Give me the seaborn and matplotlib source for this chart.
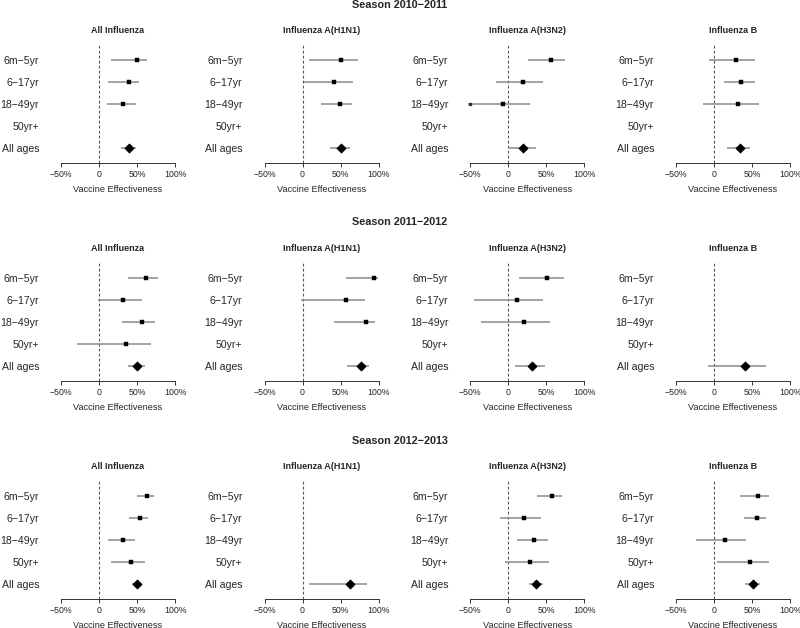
import numpy as np
import pandas as pd
import matplotlib
matplotlib.use('Agg')
import matplotlib.pyplot as plt
import seaborn as sns

sns.set_theme(style='white')
plt.rcParams['font.family'] = ['Liberation Sans', 'DejaVu Sans']

nan = np.nan
seasons = ['Season 2010\u22122011', 'Season 2011\u22122012', 'Season 2012\u22122013']
panels = ['All Influenza', 'Influenza A(H1N1)', 'Influenza A(H3N2)', 'Influenza B']
ages = ['6m\u22125yr', '6\u221217yr', '18\u221249yr', '50yr+', 'All ages']

# estimates / lower / upper, one row per panel, one column per age group
s1_est = [[50, 39, 32, nan, 40], [50, 42, 49, nan, 51], [56, 19, -7, nan, 19], [29, 36, 31, nan, 34]]
s1_lo = [[16, 12, 11, nan, 29], [9, 2, 24, nan, 36], [26, -16, -55, nan, 0], [-7, 13, -14, nan, 17]]
s1_hi = [[63, 53, 49, nan, 49], [73, 66, 65, nan, 63], [74, 45, 28, nan, 36], [54, 54, 59, nan, 47]]

s2_est = [[62, 32, 57, 35, 50], [94, 57, 84, nan, 77], [51, 12, 21, nan, 31], [nan, nan, nan, nan, 41]]
s2_lo = [[38, -1, 30, -29, 38], [57, -2, 42, nan, 59], [14, -45, -36, nan, 9], [nan, nan, nan, nan, -8]]
s2_hi = [[77, 56, 74, 68, 61], [99, 82, 96, nan, 88], [73, 46, 55, nan, 48], [nan, nan, nan, nan, 68]]

s3_est = [[63, 54, 32, 42, 50], [nan, nan, nan, nan, 62], [57, 20, 34, 29, 36], [58, 56, 15, 48, 51]]
s3_lo = [[50, 40, 12, 16, 43], [nan, nan, nan, nan, 8], [38, -11, 12, -5, 27], [34, 39, -24, 4, 41]]
s3_hi = [[73, 65, 48, 61, 57], [nan, nan, nan, nan, 85], [71, 43, 52, 54, 46], [73, 69, 42, 72, 60]]

rows = []
for s, (est, lo, hi) in enumerate([(s1_est, s1_lo, s1_hi), (s2_est, s2_lo, s2_hi), (s3_est, s3_lo, s3_hi)]):
    for p in range(4):
        for a in range(5):
            rows.append(dict(season=s, panel=p, pos=a, age=ages[a],
                             est=est[p][a], lo=lo[p][a], hi=hi[p][a]))
df = pd.DataFrame(rows)

W, H = 800, 628
fig = plt.figure(figsize=(W / 100, H / 100), dpi=100)

x0 = [61, 264.5, 470.3, 676]   # pixel of -50% per panel
scale = 0.76                   # px per percent
bottoms = [163, 381, 599]      # pixel of axis line per season
ax_h = 118.4

for s in range(3):
    b = bottoms[s]
    fig.text(0.5, 1 - (b - 158.5) / H, seasons[s], ha='center', va='center',
             fontsize=7.8, fontweight='bold')
    for p in range(4):
        left = x0[p] - 6 * scale
        ax = fig.add_axes([left / W, 1 - b / H, 162 * scale / W, ax_h / H])
        d = df[(df.season == s) & (df.panel == p)].dropna()
        ax.axvline(0, color='#555555', lw=0.8, ls=(0, (2.5, 2)), zorder=1)
        ax.hlines(d['pos'], d['lo'].clip(lower=-53), d['hi'], color='#8a8a8a', lw=1.1, zorder=2)
        clipped = d[d['lo'] < -50]
        ax.plot([-50] * len(clipped), clipped['pos'], marker='s', ms=1.6, color='#333333', ls='none')
        sns.scatterplot(data=d[d.pos < 4], x='est', y='pos', marker='s', s=8,
                        color='black', edgecolor='black', linewidth=0.3, ax=ax, zorder=3, legend=False)
        sns.scatterplot(data=d[d.pos == 4], x='est', y='pos', marker='D', s=22,
                        color='black', edgecolor='black', linewidth=0.5, ax=ax, zorder=3, legend=False)
        ax.set_xlim(-56, 106)
        ax.set_ylim(4.68, -0.7)
        ax.set_yticks(range(5))
        ax.set_yticklabels(ages, fontsize=7.6)
        ax.tick_params(axis='y', length=0, pad=12.5)
        ax.set_xticks([-50, 0, 50, 100])
        ax.set_xticklabels(['\u221250%', '0', '50%', '100%'], fontsize=6.3)
        ax.tick_params(axis='x', length=3, width=0.7, pad=2, color='#333333', direction='out',
                       bottom=True)
        for side in ['left', 'right', 'top']:
            ax.spines[side].set_visible(False)
        ax.spines['bottom'].set_bounds(-50, 100)
        ax.spines['bottom'].set_linewidth(0.7)
        ax.spines['bottom'].set_color('#333333')
        ax.set_xlabel('Vaccine Effectiveness', fontsize=6.6, labelpad=4)
        ax.set_ylabel('')
        ax.set_title(panels[p], fontsize=6.5, fontweight='bold', pad=8)
        ax.set_facecolor('white')

fig.savefig('out.png', dpi=100, facecolor='white')
